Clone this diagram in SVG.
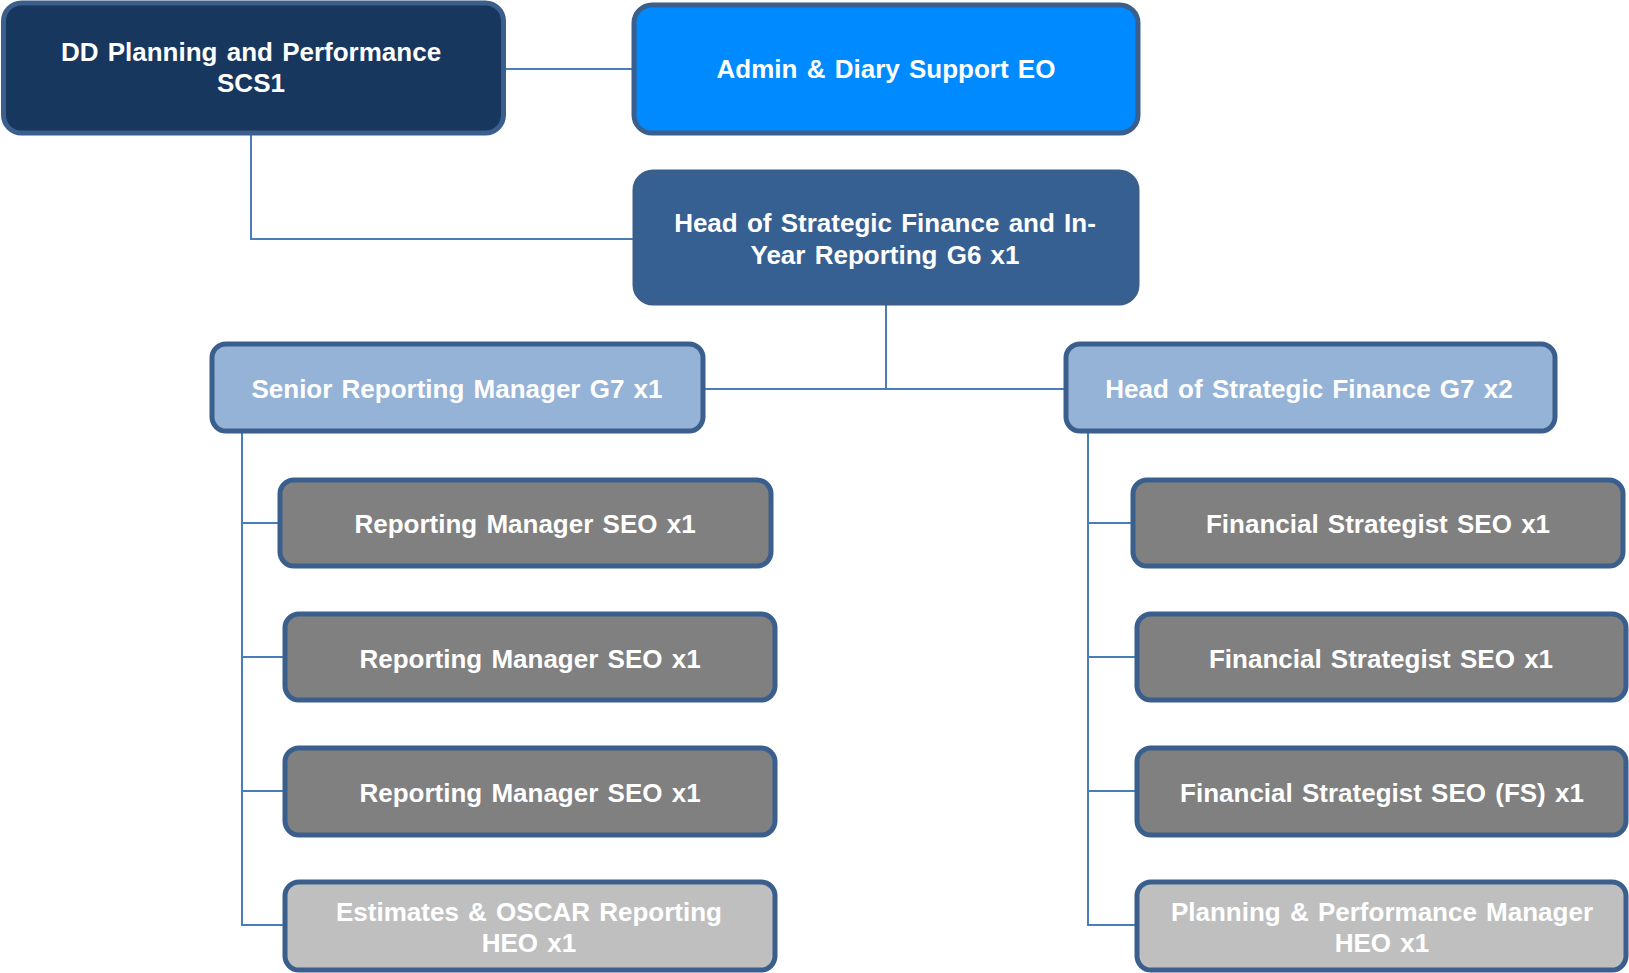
<svg xmlns="http://www.w3.org/2000/svg" width="1629" height="973" viewBox="0 0 1629 973">
  <style>
    .box { stroke: #3A5F8C; stroke-width: 5; }
    .l0 { fill: #17375E; }
    .admin { fill: #008AFF; }
    .l1 { fill: #376092; }
    .l2 { fill: #95B3D7; }
    .l3 { fill: #808080; }
    .l4 { fill: #BFBFBF; }
    .lbl { font-family: "Liberation Sans", Arial, sans-serif; font-weight: bold; font-size: 26px; fill: #FFFFFF; text-anchor: middle; word-spacing: 2px; }
    .conn { fill: none; stroke: #4A7EBB; stroke-width: 2; }
  </style>
  <rect width="1629" height="973" fill="#FFFFFF"/>

  <!-- reporting lines -->
  <g id="connectors">
    <path class="conn" d="M505 69 H635"/>
    <path class="conn" d="M251 134 V239 H636"/>
    <path class="conn" d="M886 304 V389"/>
    <path class="conn" d="M704 389 H1067"/>
    <path class="conn" d="M242 432 V925 H286"/>
    <path class="conn" d="M242 523 H281"/>
    <path class="conn" d="M242 657 H286"/>
    <path class="conn" d="M242 791 H286"/>
    <path class="conn" d="M1088 432 V925 H1138"/>
    <path class="conn" d="M1088 523 H1134"/>
    <path class="conn" d="M1088 657 H1138"/>
    <path class="conn" d="M1088 791 H1138"/>
  </g>

  <g id="dd-planning">
    <rect class="box l0" x="3.5" y="3" width="500" height="130" rx="18"/>
    <text class="lbl" x="251" y="61">DD Planning and Performance</text>
    <text class="lbl" x="251" y="92">SCS1</text>
  </g>

  <g id="admin-support">
    <rect class="box admin" x="634" y="5" width="504" height="128" rx="18"/>
    <text class="lbl" x="886" y="78">Admin &amp; Diary Support EO</text>
  </g>

  <g id="head-strategic-finance-g6">
    <rect class="box l1" x="635" y="172" width="502" height="131" rx="18"/>
    <text class="lbl" x="885" y="232">Head of Strategic Finance and In-</text>
    <text class="lbl" x="885" y="264">Year Reporting G6 x1</text>
  </g>

  <g id="senior-reporting-manager">
    <rect class="box l2" x="212" y="344" width="491" height="87" rx="14"/>
    <text class="lbl" x="457" y="398">Senior Reporting Manager G7 x1</text>
  </g>

  <g id="head-strategic-finance-g7">
    <rect class="box l2" x="1066" y="344" width="489" height="87" rx="14"/>
    <text class="lbl" x="1309" y="398">Head of Strategic Finance G7 x2</text>
  </g>

  <g id="reporting-manager-1">
    <rect class="box l3" x="280" y="480" width="491" height="86" rx="14"/>
    <text class="lbl" x="525" y="533">Reporting Manager SEO x1</text>
  </g>

  <g id="reporting-manager-2">
    <rect class="box l3" x="285" y="614" width="490" height="86" rx="14"/>
    <text class="lbl" x="530" y="668">Reporting Manager SEO x1</text>
  </g>

  <g id="reporting-manager-3">
    <rect class="box l3" x="285" y="748" width="490" height="87" rx="14"/>
    <text class="lbl" x="530" y="802">Reporting Manager SEO x1</text>
  </g>

  <g id="estimates-oscar">
    <rect class="box l4" x="285" y="882" width="490" height="88" rx="14"/>
    <text class="lbl" x="529" y="921">Estimates &amp; OSCAR Reporting</text>
    <text class="lbl" x="529" y="952">HEO x1</text>
  </g>

  <g id="financial-strategist-1">
    <rect class="box l3" x="1133" y="480" width="490" height="86" rx="14"/>
    <text class="lbl" x="1378" y="533">Financial Strategist SEO x1</text>
  </g>

  <g id="financial-strategist-2">
    <rect class="box l3" x="1137" y="614" width="489" height="86" rx="14"/>
    <text class="lbl" x="1381" y="668">Financial Strategist SEO x1</text>
  </g>

  <g id="financial-strategist-fs">
    <rect class="box l3" x="1137" y="748" width="489" height="87" rx="14"/>
    <text class="lbl" x="1382" y="802">Financial Strategist SEO (FS) x1</text>
  </g>

  <g id="planning-performance-manager">
    <rect class="box l4" x="1137" y="882" width="489" height="88" rx="14"/>
    <text class="lbl" x="1382" y="921">Planning &amp; Performance Manager</text>
    <text class="lbl" x="1382" y="952">HEO x1</text>
  </g>
</svg>
